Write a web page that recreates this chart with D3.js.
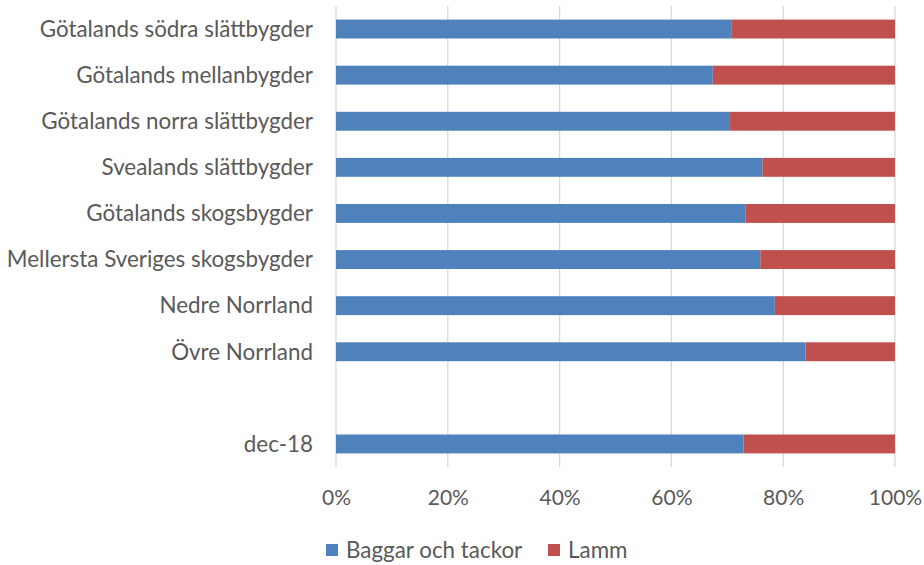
<!DOCTYPE html>
<html><head><meta charset="utf-8">
<script src="https://cdn.jsdelivr.net/npm/d3@7"></script>
<style>body{margin:0;background:#fff;} text{font-family:"Lato",sans-serif;fill:#595959;}</style>
</head><body>
<svg id="c" width="924" height="565"></svg>
<script>
const categories = ["Götalands södra slättbygder","Götalands mellanbygder","Götalands norra slättbygder","Svealands slättbygder","Götalands skogsbygder","Mellersta Sveriges skogsbygder","Nedre Norrland","Övre Norrland","","dec-18"];
const baggarOchTackor = [70.7,67.4,70.5,76.3,73.3,75.9,78.5,84.0,null,72.9];
const lamm = [29.3,32.6,29.5,23.7,26.7,24.1,21.5,16.0,null,27.1];
const seriesNames = ["Baggar och tackor","Lamm"];
const colors = ["#4F81BD","#C0504D"];
const tickValues = [0,20,40,60,80,100];

const FS = "22.4px";
const svg = d3.select("#c");
const m = {left:336, right:29, top:6, bottom:98};
const W = 924, H = 565;
const x = d3.scaleLinear().domain([0,100]).range([m.left, W-m.right]);
const y = d3.scaleBand().domain(d3.range(categories.length)).range([m.top, H-m.bottom]).paddingInner(0.59).paddingOuter(0.295);

svg.append("g").selectAll("line").data(tickValues).join("line")
  .attr("x1",d=>x(d)).attr("x2",d=>x(d)).attr("y1",m.top).attr("y2",H-m.bottom)
  .attr("stroke","#D9D9D9").attr("stroke-width",1.3);

const rows = categories.map((c,i)=>({i, a:baggarOchTackor[i], b:lamm[i]})).filter(d=>d.a!=null);
const g = svg.append("g");
rows.forEach(d=>{
  const t = d.a + d.b;
  const segs = [[0, d.a/t*100],[d.a/t*100, 100]];
  segs.forEach((seg,k)=>{
    g.append("rect").attr("x",x(seg[0])).attr("width",x(seg[1])-x(seg[0]))
     .attr("y",y(d.i)).attr("height",y.bandwidth()).attr("fill",colors[k]);
  });
});

svg.append("g").selectAll("text").data(categories).join("text")
  .attr("x",m.left-23).attr("y",(d,i)=>y(i)+y.bandwidth()/2).attr("dy","0.35em")
  .attr("text-anchor","end").style("font-size",FS).text(d=>d);

const xa = svg.append("g").attr("transform",`translate(0,${H-m.bottom})`)
  .call(d3.axisBottom(x).tickValues(tickValues).tickFormat(d=>d+"%").tickSize(0).tickPadding(23));
xa.select(".domain").remove();
xa.selectAll("text").style("font-size","21px").style("fill","#595959").style("font-family","Lato,sans-serif");

const leg = svg.append("g");
const lx = [326, 548];
seriesNames.forEach((n,k)=>{
  leg.append("rect").attr("x",lx[k]).attr("y",544).attr("width",12).attr("height",12).attr("fill",colors[k]);
  leg.append("text").attr("x",lx[k]+20).attr("y",550).attr("dy","0.35em").style("font-size",FS).text(n);
});
</script>
</body></html>
